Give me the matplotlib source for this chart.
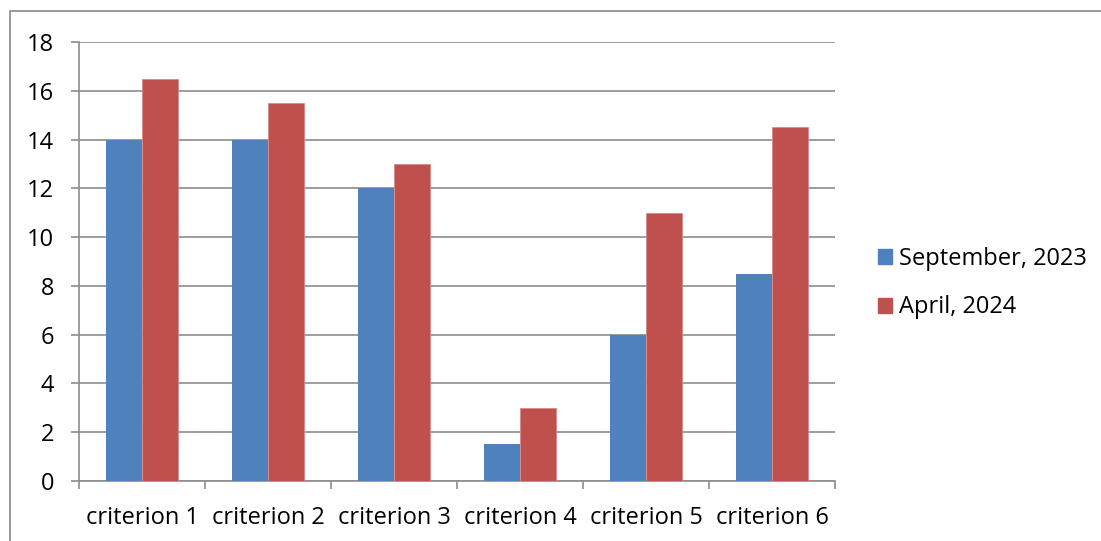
import numpy as np
import matplotlib.pyplot as plt
from matplotlib.patches import Rectangle, Patch

categories = ['criterion 1', 'criterion 2', 'criterion 3', 'criterion 4', 'criterion 5', 'criterion 6']
sep2023 = [14, 14, 12, 1.5, 6, 8.5]
apr2024 = [16.5, 15.5, 13, 3, 11, 14.5]
series_names = ['September, 2023', 'April, 2024']

blue = '#4F81BD'
red = '#C0504D'
grid_gray = '#8C8C8C'

plt.rcParams['font.family'] = ['Open Sans', 'DejaVu Sans']

fig = plt.figure(figsize=(11.01, 5.41), dpi=100)
# chart frame
fig.patches.append(Rectangle((10 / 1101, -0.1), 1.2, 1 - 11 / 541 + 0.1,
                             transform=fig.transFigure, fill=False,
                             edgecolor='#878787', linewidth=1.2))

ax = fig.add_axes([79 / 1101, 1 - 481 / 541, 756 / 1101, 439 / 541])

x = np.arange(len(categories))
w = 36 / 126
ax.bar(x - w / 2, sep2023, w, color=blue, zorder=3)
ax.bar(x + w / 2, apr2024, w, color=red, edgecolor='#D68A88', linewidth=0.6, zorder=3)

ax.set_xlim(-0.5, len(categories) - 0.5)
ax.set_ylim(0, 18)
ax.set_yticks(np.arange(0, 19, 2))
ax.yaxis.grid(True, color=grid_gray, linewidth=1.2, zorder=0)

# category boundaries get the ticks, centres get the labels
ax.set_xticks(np.arange(-0.5, len(categories), 1))
ax.set_xticklabels([])
ax.set_xticks(x, minor=True)
ax.set_xticklabels(categories, minor=True)
ax.tick_params(axis='x', which='major', length=6, width=1.2, color=grid_gray)
ax.tick_params(axis='x', which='minor', length=0, pad=18, labelsize=17)
ax.tick_params(axis='y', length=6, width=1.2, color=grid_gray, pad=12, labelsize=17)

for s in ['top', 'right']:
    ax.spines[s].set_visible(False)
for s in ['left', 'bottom']:
    ax.spines[s].set_color(grid_gray)
    ax.spines[s].set_linewidth(1.2)

handles = [Patch(color=blue), Patch(color=red)]
fig.legend(handles, series_names, loc='center left', bbox_to_anchor=(857 / 1101, 1 - 283 / 541),
           frameon=False, fontsize=17, handlelength=0.6, handleheight=0.6,
           handletextpad=0.3, labelspacing=1.05)

fig.savefig('out.png', dpi=100)
